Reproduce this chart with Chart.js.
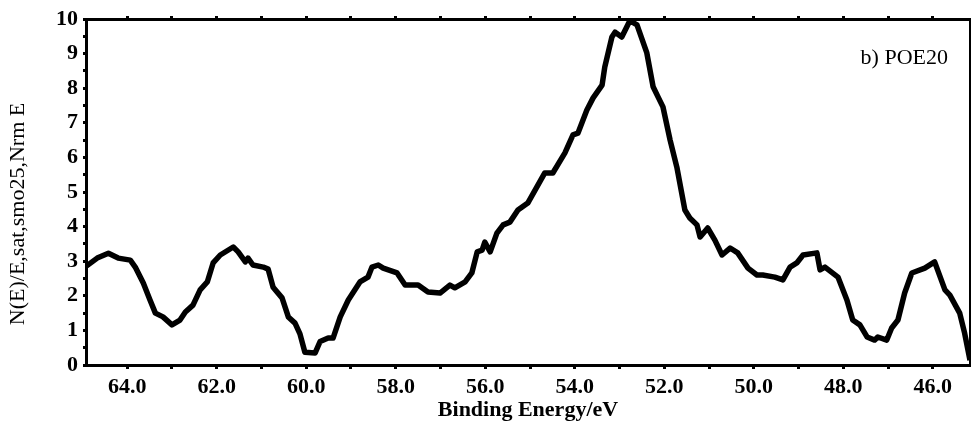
<!DOCTYPE html>
<html>
<head>
<meta charset="utf-8">
<script src="https://cdn.jsdelivr.net/npm/chart.js@4.4.1/dist/chart.umd.min.js"></script>
<style>
  html, body { margin: 0; padding: 0; background: #fff; }
  #wrap { width: 971px; height: 429px; }
</style>
</head>
<body>
<div id="wrap"><canvas id="myChart"></canvas></div>
<script>
// 读图得到的数据
const energy = [64.92, 64.67, 64.42, 64.2, 63.93, 63.82, 63.64, 63.49, 63.37, 63.2, 63.0, 62.82, 62.7, 62.53, 62.37,
  62.21, 62.08, 61.92, 61.63, 61.52, 61.36, 61.3, 61.19, 60.96, 60.85, 60.74, 60.54, 60.4, 60.25, 60.14, 60.03,
  59.8, 59.69, 59.51, 59.4, 59.24, 59.06, 58.8, 58.62, 58.53, 58.39, 58.28, 57.97, 57.79, 57.5, 57.28, 57.01,
  56.79, 56.68, 56.45, 56.3, 56.18, 56.07, 56.01, 55.89, 55.74, 55.6, 55.45, 55.27, 55.05, 54.67, 54.49, 54.22,
  54.04, 53.93, 53.73, 53.59, 53.39, 53.33, 53.17, 53.1, 52.95, 52.77, 52.61, 52.39, 52.25, 52.14, 52.03, 51.87,
  51.72, 51.54, 51.43, 51.27, 51.2, 51.03, 50.87, 50.71, 50.53, 50.36, 50.13, 49.93, 49.8, 49.53, 49.35, 49.19,
  49.04, 48.9, 48.59, 48.52, 48.41, 48.12, 47.92, 47.79, 47.63, 47.47, 47.3, 47.23, 47.03, 46.92, 46.78, 46.63,
  46.47, 46.18, 45.96, 45.73, 45.62, 45.4, 45.29, 45.17];
const intensity = [2.85, 3.09, 3.23, 3.09, 3.03, 2.83, 2.37, 1.88, 1.5, 1.39, 1.16, 1.3, 1.53, 1.73, 2.17,
  2.4, 2.95, 3.18, 3.41, 3.27, 2.98, 3.09, 2.89, 2.83, 2.77, 2.25, 1.94, 1.39, 1.21, 0.9, 0.37,
  0.35, 0.68, 0.78, 0.78, 1.39, 1.88, 2.4, 2.54, 2.83, 2.89, 2.8, 2.66, 2.31, 2.31, 2.11, 2.08,
  2.31, 2.23, 2.4, 2.66, 3.27, 3.32, 3.55, 3.27, 3.81, 4.05, 4.13, 4.48, 4.68, 5.55, 5.55, 6.13,
  6.65, 6.7, 7.37, 7.72, 8.09, 8.61, 9.48, 9.62, 9.48, 9.95, 9.83, 9.02, 8.04, 7.75, 7.46, 6.5,
  5.72, 4.48, 4.25, 4.05, 3.7, 3.96, 3.61, 3.18, 3.38, 3.24, 2.8, 2.6, 2.6, 2.54, 2.46, 2.83,
  2.95, 3.18, 3.24, 2.75, 2.83, 2.54, 1.88, 1.3, 1.16, 0.81, 0.72, 0.81, 0.72, 1.07, 1.3, 2.08,
  2.66, 2.8, 2.98, 2.17, 2.02, 1.5, 0.92, 0.14];

const xTickValues = [64, 63, 62, 61, 60, 59, 58, 57, 56, 55, 54, 53, 52, 51, 50, 49, 48, 47, 46];
const xTickLabels = ["64.0", "62.0", "60.0", "58.0", "56.0", "54.0", "52.0", "50.0", "48.0", "46.0"];
const yTickLabels = ["0", "1", "2", "3", "4", "5", "6", "7", "8", "9", "10"];

const serif = "'Liberation Serif', 'DejaVu Serif', serif";

function xTicks(scale) {
  scale.ticks = xTickValues.map(v => ({ value: v }));
}
function xLabel(v) {
  const s = v.toFixed(1);
  return xTickLabels.includes(s) ? s : "";
}

// 右上角的样品标签
const sampleLabel = {
  id: "sampleLabel",
  afterDraw(chart) {
    const c = chart.ctx;
    c.save();
    c.font = "22px " + serif;
    c.fillStyle = "#000";
    c.textAlign = "right";
    c.textBaseline = "middle";
    c.fillText("b) POE20", chart.chartArea.right - 22, chart.chartArea.top + 39);
    c.restore();
  }
};

const ctx = document.getElementById("myChart").getContext("2d");
const myChart = new Chart(ctx, {
  type: "line",
  data: {
    datasets: [
      {
        data: energy.map((e, i) => ({ x: e, y: intensity[i] })),
        borderColor: "#000",
        borderWidth: 5.5,
        pointRadius: 0,
        tension: 0,
        fill: false,
        borderJoinStyle: "round",
        xAxisID: "x",
        yAxisID: "y",
      },
    ],
  },
  options: {
    responsive: true,
    maintainAspectRatio: false,
    animation: false,
    layout: { padding: 0 },
    plugins: { legend: { display: false }, tooltip: { enabled: false } },
    scales: {
      x: {
        type: "linear",
        position: "bottom",
        reverse: true,
        min: 45.17,
        max: 64.92,
        afterBuildTicks: xTicks,
        afterFit(scale) { scale.height = 64; },
        border: { color: "#000", width: 3 },
        grid: { drawOnChartArea: false, color: "#000", tickLength: 4, tickWidth: 3 },
        ticks: {
          autoSkip: false,
          maxRotation: 0,
          padding: 5,
          color: "#000",
          font: { family: serif, size: 22, weight: "bold" },
          callback: xLabel,
        },
        title: {
          display: true,
          text: "Binding Energy/eV",
          color: "#000",
          font: { family: serif, size: 22, weight: "bold" },
          padding: { top: 5, bottom: 5 },
        },
      },
      x2: {
        type: "linear",
        position: "top",
        reverse: true,
        min: 45.17,
        max: 64.92,
        afterBuildTicks: xTicks,
        afterFit(scale) { scale.height = 19; },
        border: { color: "#000", width: 3 },
        grid: { drawOnChartArea: false, color: "#000", tickLength: 3, tickWidth: 3 },
        ticks: { display: false },
      },
      y: {
        type: "linear",
        position: "left",
        min: 0,
        max: 10,
        afterFit(scale) { scale.width = 86; },
        border: { color: "#000", width: 3 },
        grid: { drawOnChartArea: false, color: "#000", tickLength: 3, tickWidth: 3 },
        ticks: {
          stepSize: 0.5,
          autoSkip: false,
          padding: 5,
          color: "#000",
          font: { family: serif, size: 22, weight: "bold" },
          callback: v => (Number.isInteger(v) ? yTickLabels[v] : ""),
        },
        title: {
          display: true,
          text: "N(E)/E,sat,smo25,Nrm E        ",
          color: "#000",
          font: { family: serif, size: 22 },
          padding: { top: 5, bottom: 0 },
        },
      },
      y2: {
        type: "linear",
        position: "right",
        min: 0,
        max: 10,
        afterFit(scale) { scale.width = 1; },
        border: { color: "#000", width: 3, dash: [3, 12] },
        grid: { display: false },
        ticks: { display: false },
      },
    },
  },
  plugins: [sampleLabel],
});
</script>
</body>
</html>
